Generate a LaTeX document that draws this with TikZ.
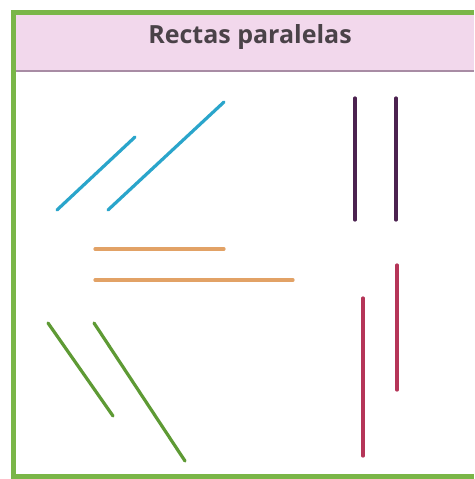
\documentclass[tikz,border=0pt]{standalone}
\usepackage{fontspec}
\setmainfont{Open Sans}
\definecolor{frameg}{HTML}{7AB648}
\definecolor{headp}{HTML}{F2D8EC}
\definecolor{headline}{HTML}{A88CA4}
\definecolor{titlec}{HTML}{4A4248}
\definecolor{bluel}{HTML}{2AA5CB}
\definecolor{orangel}{HTML}{E2A266}
\definecolor{greenl}{HTML}{5E9A34}
\definecolor{purplel}{HTML}{4C2250}
\definecolor{redl}{HTML}{B53558}
\tikzset{
  seg/.style={line width=3.2pt, line cap=round},
}
\begin{document}
\begin{tikzpicture}[x=1pt,y=-1pt]
\useasboundingbox (0,0) rectangle (474,479);
\fill[white] (0,0) rectangle (474,479);
% header band
\fill[headp] (13,13) rectangle (474,71);
\draw[headline, line width=1.6pt] (13,71) -- (474,71);
% frame
\draw[frameg, line width=5pt] (474,12.5) -- (13,12.5) -- (13,476.5) -- (474,476.5);
% title
\node[text=titlec, font=\fontsize{25}{28}\selectfont\bfseries, anchor=center] (title) at (250,37) {Rectas paralelas};
% blue
\draw[seg, bluel] (57,210) -- (135,137);
\draw[seg, bluel] (108,210) -- (224,102);
% orange
\draw[seg, orangel] (95,249) -- (224,249);
\draw[seg, orangel] (95,280) -- (293,280);
% green
\draw[seg, greenl] (48,323) -- (113,416);
\draw[seg, greenl] (94,323) -- (185,461);
% purple
\draw[seg, purplel] (355,98) -- (355,220);
\draw[seg, purplel] (396,98) -- (396,220);
% red
\draw[seg, redl] (363,298) -- (363,456);
\draw[seg, redl] (397,265) -- (397,390);
\end{tikzpicture}
\end{document}
